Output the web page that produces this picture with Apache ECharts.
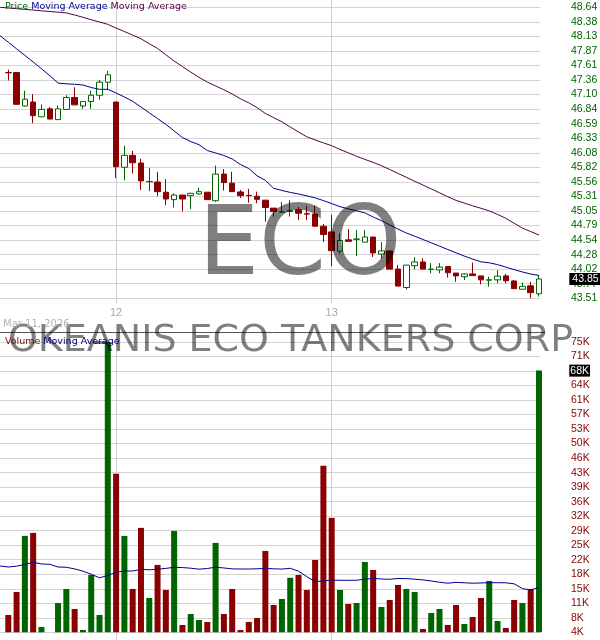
<!DOCTYPE html>
<html>
<head>
<meta charset="utf-8">
<title>ECO</title>
<script src="https://cdn.jsdelivr.net/npm/echarts@6.0.0/dist/echarts.min.js"></script>
<style>
html,body{margin:0;padding:0;background:#fff;}
#chart{width:600px;height:640px;}
</style>
</head>
<body>
<div id="chart"></div>
<script>
// ---------------- data ----------------
const tradingDays = ['2026-03-11', '2026-03-12', '2026-03-13'];
const sessionTimes = ['09:30','09:45','10:00','10:15','10:30','10:45','11:00','11:15','11:30','11:45','12:00','12:15','12:30',
                      '12:45','13:00','13:15','13:30','13:45','14:00','14:15','14:30','14:45','15:00','15:15','15:30','15:45'];
const categories = [].concat(
  sessionTimes.slice(12).map(t => tradingDays[0] + ' ' + t),
  sessionTimes.map(t => tradingDays[1] + ' ' + t),
  sessionTimes.map(t => tradingDays[2] + ' ' + t)
); // index 0 = bar before the first candle (moving averages only)

const opens = [47.49,47.49,46.90,46.97,46.71,46.85,46.66,46.84,47.05,46.90,46.98,47.09,47.32,
  46.97,45.82,46.03,45.895,45.565,45.56,45.38,45.25,45.33,45.32,45.35,45.38,
  45.23,45.70,45.54,45.385,45.325,45.31,45.24,45.10,45.03,45.04,45.07,45.00,44.995,44.78,
  44.68,44.34,44.54,44.55,44.50,44.59,44.29,44.345,44.025,43.70,44.085,44.15,
  44.02,44.01,44.07,43.955,43.89,43.94,43.905,43.83,43.835,43.905,43.815,43.67,43.73,43.59];
const closes = [47.485,46.93,47.02,46.73,46.84,46.67,46.85,47.05,46.92,46.98,47.09,47.32,47.45,
  45.83,46.03,45.90,45.58,45.57,45.39,45.26,45.33,45.26,45.36,45.39,45.25,
  45.70,45.55,45.39,45.32,45.32,45.255,45.11,45.04,45.035,45.06,45.01,44.995,44.78,44.635,
  44.35,44.53,44.515,44.555,44.59,44.31,44.345,44.025,43.725,44.095,44.15,44.025,
  44.025,44.06,43.96,43.905,43.94,43.91,43.835,43.835,43.90,43.82,43.68,43.72,43.61,43.85];
const lows = [47.35,46.93,46.89,46.60,46.71,46.67,46.66,46.84,46.92,46.85,46.85,47.01,47.18,
  45.63,45.59,45.71,45.42,45.40,45.31,45.15,45.11,45.04,45.085,45.34,45.25,
  45.21,45.41,45.39,45.28,45.195,45.185,44.86,44.95,45.03,44.95,44.89,44.89,44.78,44.50,
  44.08,44.30,44.515,44.255,44.50,44.24,44.215,44.025,43.725,43.665,44.02,44.025,
  43.95,43.95,43.875,43.80,43.83,43.91,43.755,43.715,43.775,43.775,43.68,43.67,43.51,43.54];
const highs = [47.54,47.49,47.17,47.11,46.93,46.88,46.91,47.09,47.23,46.98,47.17,47.36,47.52,
  46.97,46.20,46.11,45.97,45.81,45.74,45.61,45.36,45.33,45.37,45.46,45.38,
  45.85,45.79,45.74,45.42,45.44,45.39,45.24,45.10,45.21,45.24,45.12,45.14,45.14,44.82,
  44.98,44.66,44.73,44.715,44.715,44.59,44.50,44.345,44.095,44.095,44.235,44.215,
  44.13,44.13,44.07,43.955,43.95,44.14,43.905,43.89,44.005,43.94,43.835,43.79,43.80,43.91];

const priceMaShort = [48.139,48.025,47.908,47.792,47.676,47.556,47.436,47.304,47.291,47.283,47.270,
  47.226,47.194,47.194,47.129,47.059,46.983,46.882,46.780,46.678,46.576,
  46.461,46.343,46.274,46.218,46.116,46.072,46.027,45.967,45.869,45.798,
  45.670,45.589,45.448,45.411,45.377,45.349,45.317,45.280,45.233,45.180,
  45.125,45.088,45.052,45.016,44.943,44.878,44.804,44.730,44.661,44.605,
  44.547,44.488,44.430,44.370,44.312,44.254,44.201,44.153,44.136,44.104,
  44.060,44.016,43.974,43.938,43.912];
const priceMaLong = [48.640,48.628,48.615,48.603,48.592,48.578,48.566,48.554,48.541,48.504,48.464,
  48.421,48.381,48.339,48.275,48.213,48.150,48.085,47.998,47.914,47.803,
  47.693,47.595,47.498,47.406,47.321,47.253,47.187,47.112,47.027,46.956,
  46.872,46.768,46.695,46.621,46.530,46.442,46.357,46.301,46.250,46.200,
  46.135,46.075,46.013,45.959,45.906,45.848,45.781,45.712,45.643,45.574,
  45.507,45.439,45.370,45.301,45.236,45.188,45.141,45.097,45.051,44.989,
  44.920,44.834,44.747,44.686,44.626];

const volumes = [8240,13870,27580,28310,5300,4000,11170,14600,9700,4560,18030,8240,75000,
  42760,27580,14600,29540,12400,20480,14360,28800,5790,8480,7010,6520,
  25860,8480,14600,4560,6520,7500,23900,10680,12150,17330,18030,14360,21700,44720,
  31980,14360,10930,11170,21210,19250,10190,11910,15580,14600,13870,4810,
  8730,9700,5790,10680,6040,7750,12400,16560,6770,5050,11910,11170,14600,68000];
const volumeMa = [20220,19970,20170,20580,21120,20710,20630,19970,19900,19510,18950,
  18210,17330,17890,18680,18990,18990,19390,19290,19430,19630,
  19900,19830,19680,19430,19610,19920,19730,19510,19480,19480,
  19530,19630,19530,19460,19650,18950,17620,16380,16550,16770,
  16720,16720,16720,17010,17160,17040,16960,17160,17130,16990,
  16820,16550,16250,16010,16210,16110,16010,16060,16130,16130,
  16110,15860,14690,14350,15010];

const priceTicks = ['43.51','43.77','44.02','44.28','44.54','44.79','45.05','45.31','45.56','45.82','46.08',
  '46.33','46.59','46.84','47.10','47.36','47.61','47.87','48.13','48.38','48.64'];
const volumeTicks = ['4K','8K','11K','15K','18K','22K','25K','29K','32K','36K','39K',
  '43K','46K','50K','53K','57K','61K','64K','68K','71K','75K'];

// ---------------- styling / layout ----------------
const GREEN = '#006400', RED = '#8B0000', BLUE = '#00008B', PURPLE = '#520046';
const GRID_LINE = '#d4d4d4';
const PT = 7.3, PH = 291;          // price panel plot
const VT = 342, VH = 290.3;        // volume panel plot
const LINE_W = 540;                // width of horizontal grid lines
const SLOT = 539 / 65;             // spacing of bars
const DATA_W = SLOT * 66;          // category axis spans index 0..66

const priceMin = parseFloat(priceTicks[0]);
const priceMax = parseFloat(priceTicks[priceTicks.length - 1]);
const priceStep = (priceMax - priceMin) / (priceTicks.length - 1);
const volMin = parseFloat(volumeTicks[0]) * 1000;
const volMax = parseFloat(volumeTicks[volumeTicks.length - 1]) * 1000;
const volStep = (volMax - volMin) / (volumeTicks.length - 1);

const candleData = ['-'].concat(opens.map((o, i) => [o, closes[i], lows[i], highs[i]]));
const volumeData = ['-'].concat(volumes);
const lastClose = closes[closes.length - 1];
const lastVolume = volumes[volumes.length - 1];

function dayStart(i) {
  return i > 0 && i < categories.length && categories[i].slice(0, 10) !== categories[i - 1].slice(0, 10);
}
const noBounds = { outerBoundsMode: 'none', containLabel: false };

const hiddenCat = (gi) => ({
  type: 'category', gridIndex: gi, data: categories, boundaryGap: false, max: 66, show: false
});
const hiddenVal = (gi) => ({ type: 'value', gridIndex: gi, min: 0, max: 1, show: false });
const dayCat = (gi, withLabels) => ({
  type: 'category', gridIndex: gi, data: categories, boundaryGap: false, max: 66,
  axisLine: { show: false }, axisTick: { show: false },
  axisLabel: {
    show: withLabels, interval: (i) => dayStart(i), margin: 4,
    formatter: (v) => String(Number(String(v).slice(8, 10))),
    color: '#a8a8a8', fontSize: 11, fontFamily: 'Liberation Sans'
  },
  splitLine: { show: true, interval: (i) => dayStart(i), lineStyle: { color: '#cfcfcf', width: 1 } }
});
const lastValueMark = (value, text, pad) => ({
  silent: true, symbol: ['none', 'none'], animation: false,
  lineStyle: { color: 'rgba(0,0,0,0)', width: 0 },
  label: {
    show: true, position: 'end', distance: 22, formatter: () => text,
    backgroundColor: '#000000', color: '#ffffff', fontSize: 10.5, fontFamily: 'Liberation Sans',
    padding: pad, lineHeight: 11
  },
  emphasis: { disabled: true },
  data: [{ yAxis: value }]
});

const chart = echarts.init(document.getElementById('chart'), null, { renderer: 'canvas' });
chart.setOption({
  animation: false,
  backgroundColor: '#ffffff',
  grid: [
    Object.assign({ left: 0, top: PT, width: LINE_W, height: PH }, noBounds),  // 0 price lines + labels
    Object.assign({ left: 0, top: 0, width: DATA_W, height: 303 }, noBounds),  // 1 price day lines
    Object.assign({ left: 0, top: PT, width: DATA_W, height: PH }, noBounds),  // 2 price data
    Object.assign({ left: 0, top: VT, width: LINE_W, height: VH }, noBounds),  // 3 volume lines + labels
    Object.assign({ left: 0, top: 333, width: DATA_W, height: 307 }, noBounds),// 4 volume day lines
    Object.assign({ left: 0, top: VT, width: DATA_W, height: VH }, noBounds)   // 5 volume data
  ],
  xAxis: [
    hiddenVal(0), dayCat(1, true), hiddenCat(2),
    hiddenVal(3), dayCat(4, false), hiddenCat(5)
  ],
  yAxis: [
    {
      type: 'value', gridIndex: 0, position: 'right', min: priceMin, max: priceMax, interval: priceStep,
      axisLine: { show: false }, axisTick: { show: false },
      axisLabel: {
        margin: 31, color: GREEN, fontSize: 10.5, fontFamily: 'Liberation Sans',
        formatter: (v) => priceTicks[Math.round((v - priceMin) / priceStep)] || ''
      },
      splitLine: { show: true, lineStyle: { color: GRID_LINE, width: 1 } }
    },
    hiddenVal(1),
    { type: 'value', gridIndex: 2, min: priceMin, max: priceMax, show: false },
    {
      type: 'value', gridIndex: 3, position: 'right', min: volMin, max: volMax, interval: volStep,
      axisLine: { show: false }, axisTick: { show: false },
      axisLabel: {
        margin: 31, color: RED, fontSize: 10.5, fontFamily: 'Liberation Sans',
        formatter: (v) => volumeTicks[Math.round((v - volMin) / volStep)] || ''
      },
      splitLine: { show: true, lineStyle: { color: GRID_LINE, width: 1 } }
    },
    hiddenVal(4),
    { type: 'value', gridIndex: 5, min: volMin, max: volMax, show: false }
  ],
  series: [
    {
      type: 'candlestick', xAxisIndex: 2, yAxisIndex: 2, data: candleData, barWidth: 6, clip: false,
      itemStyle: { color: '#ffffff', color0: RED, borderColor: GREEN, borderColor0: RED, borderWidth: 1 },
      markLine: lastValueMark(lastClose, lastClose.toFixed(2), [1, 3, 0, 3]),
      z: 3
    },
    {
      type: 'line', xAxisIndex: 2, yAxisIndex: 2, data: priceMaLong, symbol: 'none',
      lineStyle: { color: PURPLE, width: 1 }, z: 4
    },
    {
      type: 'line', xAxisIndex: 2, yAxisIndex: 2, data: priceMaShort, symbol: 'none',
      lineStyle: { color: BLUE, width: 1 }, z: 4
    },
    {
      type: 'bar', xAxisIndex: 5, yAxisIndex: 5, data: volumeData, barWidth: 6, clip: true,
      itemStyle: {
        color: (p) => {
          const i = p.dataIndex - 1;
          return closes[i] >= opens[i] ? GREEN : RED;
        }
      },
      z: 3
    },
    {
      type: 'line', xAxisIndex: 5, yAxisIndex: 5, data: volumeMa, symbol: 'none', clip: false,
      lineStyle: { color: BLUE, width: 1 }, z: 4,
      markLine: lastValueMark(lastVolume, Math.round(lastVolume / 1000) + 'K', [1, 1, 0, 1])
    }
  ],
  graphic: [
    {
      type: 'line', z: 50, silent: true,
      shape: { x1: 0, y1: 332.5, x2: 545, y2: 332.5 },
      style: { stroke: '#555555', lineWidth: 1 }
    },
    {
      type: 'text', z: 100, silent: true, x: 300, y: 249,
      style: { text: 'ECO', font: '96px "DejaVu Sans"', fill: 'rgba(0,0,0,0.5)', align: 'center', verticalAlign: 'middle' }
    },
    {
      type: 'text', z: 100, silent: true, x: 290.5, y: 341,
      style: { text: 'OKEANIS ECO TANKERS CORP', font: '38px "DejaVu Sans"', fill: 'rgba(0,0,0,0.5)', align: 'center', verticalAlign: 'middle' }
    },
    {
      type: 'text', z: 110, silent: true, x: 3, y: 324,
      style: { text: 'Mar 11, 2026', font: '10px "DejaVu Sans"', fill: '#b4b4b4', align: 'left', verticalAlign: 'middle' }
    },
    {
      type: 'text', z: 110, silent: true, x: 5, y: 6.5,
      style: {
        text: '{g|Price} {b|Moving Average} {p|Moving Average}',
        font: '9.5px "DejaVu Sans"', align: 'left', verticalAlign: 'middle',
        rich: {
          g: { fill: GREEN, font: '9.5px "DejaVu Sans"' },
          b: { fill: BLUE, font: '9.5px "DejaVu Sans"' },
          p: { fill: PURPLE, font: '9.5px "DejaVu Sans"' }
        }
      }
    },
    {
      type: 'text', z: 110, silent: true, x: 5, y: 341.7,
      style: {
        text: '{r|Volume} {b|Moving Average}',
        font: '9.5px "DejaVu Sans"', align: 'left', verticalAlign: 'middle',
        rich: {
          r: { fill: RED, font: '9.5px "DejaVu Sans"' },
          b: { fill: BLUE, font: '9.5px "DejaVu Sans"' }
        }
      }
    }
  ]
});
</script>
</body>
</html>
